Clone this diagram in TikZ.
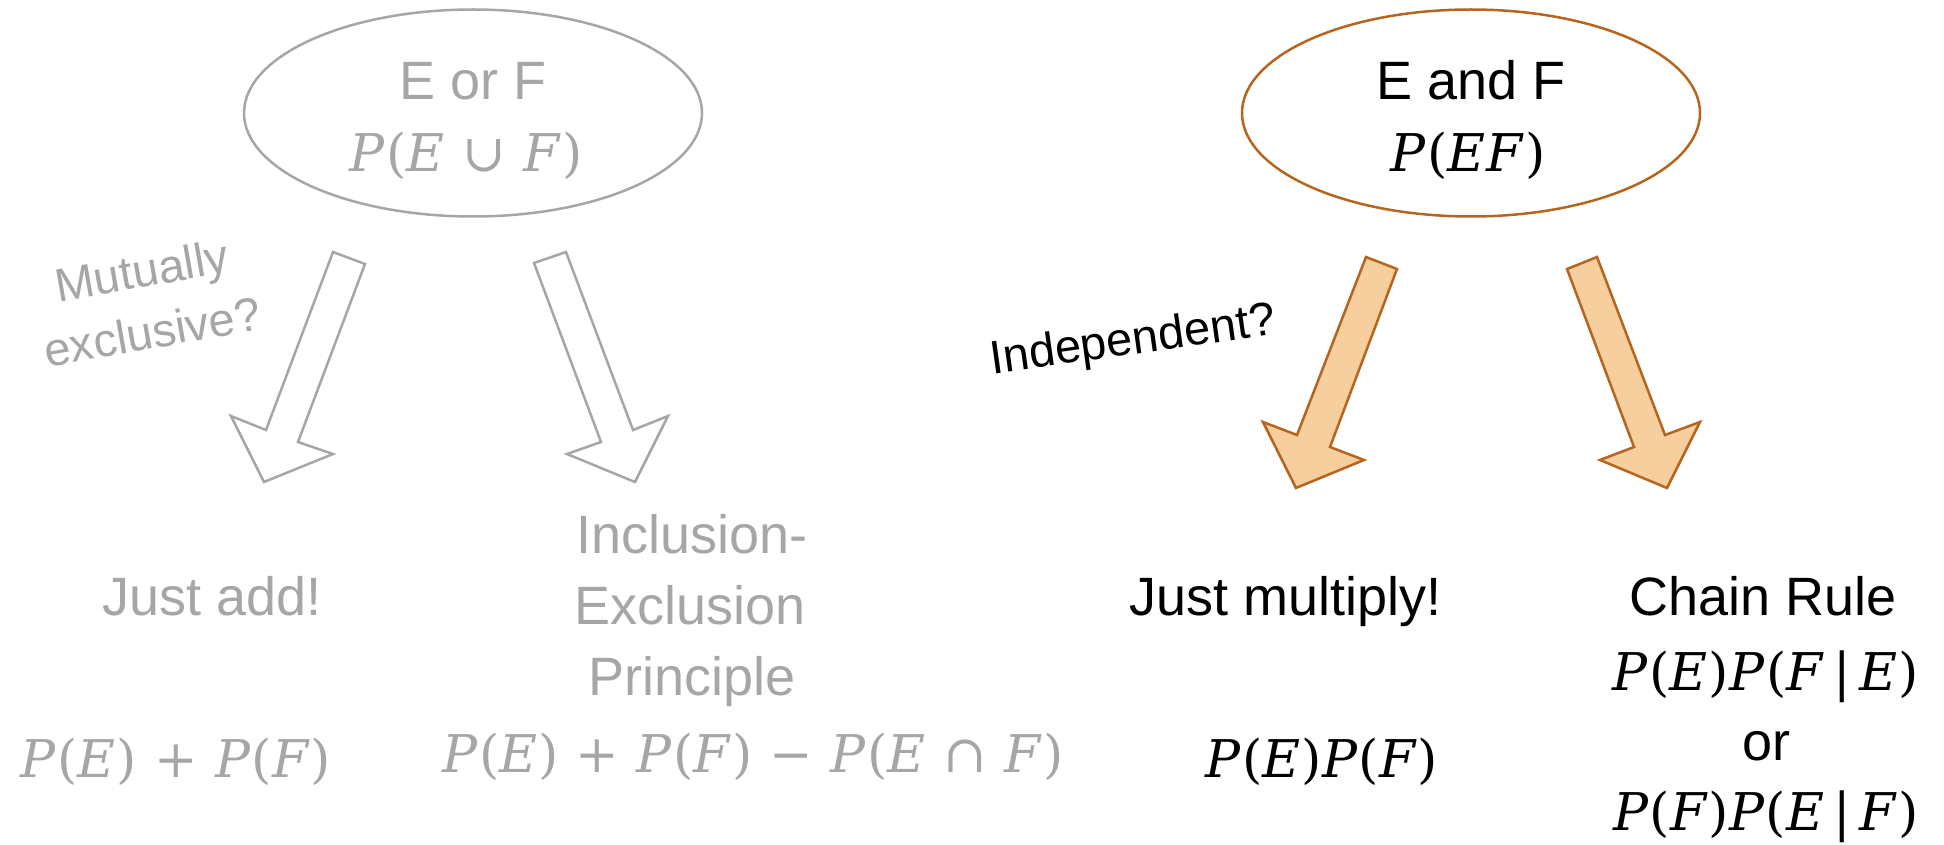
\documentclass[tikz,border=0pt]{standalone}
\usepackage{fontspec}
\setmainfont{Liberation Sans}
\newfontfamily\mf{DejaVu Serif}[LetterSpace=2]
\newcommand{\vi}[1]{\textit{#1}}
\newcommand{\op}[1]{\hspace{0.33em}#1\hspace{0.33em}}
\usetikzlibrary{shapes.geometric}
\definecolor{gr}{HTML}{A6A6A6}
\definecolor{orf}{HTML}{F7CE9D}
\definecolor{ors}{HTML}{B5651D}
\tikzset{
  txt/.style={anchor=base, inner sep=0pt, font=\fontsize{54}{71}\selectfont},
  gtxt/.style={txt, text=gr},
  mtxt/.style={anchor=base, inner sep=0pt, font=\mf\fontsize{52}{71}\selectfont},
  gmtxt/.style={mtxt, text=gr},
  ovalbox/.style={ellipse, draw, line width=2.5pt, minimum width=458pt, minimum height=207pt, inner sep=0pt},
  grayarrow/.style={draw=gr, line width=2.5pt, fill=white, line join=miter},
  orarrow/.style={draw=ors, line width=2.5pt, fill=orf, line join=miter},
  qtxt/.style={inner sep=0pt, align=center}
}
\begin{document}
\begin{tikzpicture}[x=1pt,y=-1pt]
\useasboundingbox (0,0) rectangle (1944,845);

% ellipses
\node[ovalbox, draw=gr] (eor) at (473,113) {};
\node[ovalbox, draw=ors] (eand) at (1471,113) {};

\node[gtxt] (eorT) at (473,100) {E or F};
\node[gmtxt] (eorM) at (466,172) {\vi{P}(\vi{E}\op{\char"222A}\vi{F})};
\node[txt] (eandT) at (1471,100) {E and F};
\node[mtxt] (eandM) at (1468,172) {\vi{P}(\vi{EF})};

% block arrows
\draw[grayarrow] (333,252) -- (365,264) -- (298,442) -- (333,454) -- (264,482) -- (231,416) -- (266,430) -- cycle;
\draw[grayarrow] (534,263) -- (566,252) -- (633,430) -- (668,416) -- (635,482) -- (567,454) -- (601,442) -- cycle;
\draw[orarrow] (1366,257) -- (1397,269) -- (1330,447) -- (1364,460) -- (1296,488) -- (1263,422) -- (1297,435) -- cycle;
\draw[orarrow] (1567,269) -- (1597,257) -- (1665,435) -- (1700,422) -- (1667,488) -- (1600,460) -- (1634,447) -- cycle;

% questions
\node[qtxt, text=gr, rotate=10, font=\fontsize{47}{62}\selectfont] (mutual) at (147,301) {Mutually\\exclusive?};
\node[qtxt, rotate=8, font=\fontsize{47}{57}\selectfont] (indep) at (1133,342) {Independent?};

% left results
\node[gtxt] (justadd) at (212,615) {Just add!};
\node[gmtxt] (addf) at (176,777) {\vi{P}(\vi{E})\op{+}\vi{P}(\vi{F})};

\node[gtxt] (incl1) at (692,553) {Inclusion-};
\node[gtxt] (incl2) at (690,624) {Exclusion};
\node[gtxt] (incl3) at (692,695) {Principle};
\node[gmtxt] (inclf) at (753,772) {\vi{P}(\vi{E})\op{+}\vi{P}(\vi{F})\op{\char"2212}\vi{P}(\vi{E}\op{\char"2229}\vi{F})};

% right results
\node[txt] (mult) at (1286,615) {Just multiply!};
\node[mtxt] (multf) at (1322,777) {\vi{P}(\vi{E})\vi{P}(\vi{F})};

\node[txt] (chain1) at (1763,615) {Chain Rule};
\node[mtxt] (chain2) at (1766,690) {\vi{P}(\vi{E})\vi{P}(\vi{F}\,|\,\vi{E})};
\node[txt] (chain3) at (1766,760) {or};
\node[mtxt] (chain4) at (1766,830) {\vi{P}(\vi{F})\vi{P}(\vi{E}\,|\,\vi{F})};
\end{tikzpicture}
\end{document}
